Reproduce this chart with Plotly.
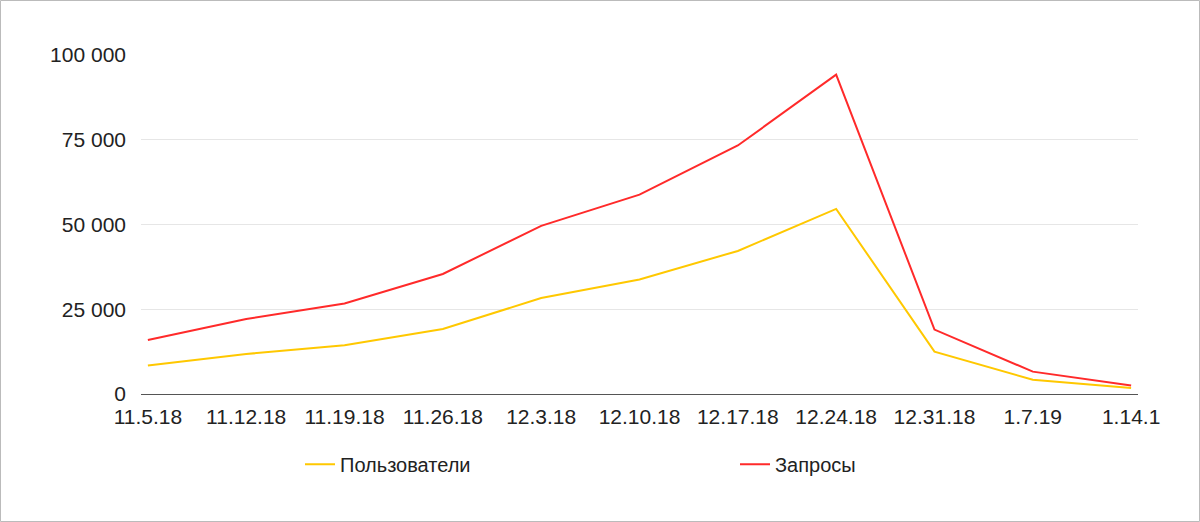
import plotly.graph_objects as go

# Data
weeks = ['11.5.18', '11.12.18', '11.19.18', '11.26.18', '12.3.18', '12.10.18',
         '12.17.18', '12.24.18', '12.31.18', '1.7.19', '1.14.1']
users = [8400, 11800, 14400, 19200, 28300, 33800, 42200, 54600, 12500, 4200, 1800]
requests = [15900, 22100, 26700, 35400, 49600, 58800, 73300, 94200, 19000, 6600, 2500]

W, H = 1200, 522
L, R, T, B = 141, 62, 55, 128
pw, ph = W - L - R, H - T - B

fig = go.Figure()
fig.add_trace(go.Scatter(x=weeks, y=users, mode='lines', name='Пользователи',
                         line=dict(color='#ffc800', width=2)))
fig.add_trace(go.Scatter(x=weeks, y=requests, mode='lines', name='Запросы',
                         line=dict(color='#ff2a2a', width=2)))

fig.update_layout(
    width=W, height=H,
    margin=dict(l=L, r=R, t=T, b=B),
    paper_bgcolor='white', plot_bgcolor='white',
    font=dict(family='Liberation Sans, Arial, sans-serif', size=21, color='#222'),
    showlegend=True,
    legend=dict(orientation='h', x=(300 - L) / pw, xanchor='left',
                y=-0.15, yanchor='top',
                entrywidth=390, entrywidthmode='pixels',
                font=dict(size=20), traceorder='normal'),
    xaxis=dict(type='category', range=[-0.07, 10.07], showgrid=False,
               showline=True, linecolor='#555', linewidth=1, ticks='',
               ticklabelstandoff=4),
    yaxis=dict(range=[0, 100000], tickvals=[0, 25000, 50000, 75000, 100000],
               ticktext=['0', '25 000', '50 000', '75 000', '100 000'],
               showgrid=True, gridcolor='#e6e6e6', gridwidth=1,
               zeroline=False, showline=False, ticks='', ticklabelstandoff=14),
    shapes=[dict(type='rect', xref='paper', yref='paper',
                 x0=-(L - 0.5) / pw, x1=1 + (R - 0.5) / pw,
                 y0=-(B - 0.5) / ph, y1=1 + (T - 0.5) / ph,
                 line=dict(color='#bbbbbb', width=1), layer='below')],
)

fig.write_html('out.html', config={'displayModeBar': False},
               post_script="document.body.style.margin='0';")
